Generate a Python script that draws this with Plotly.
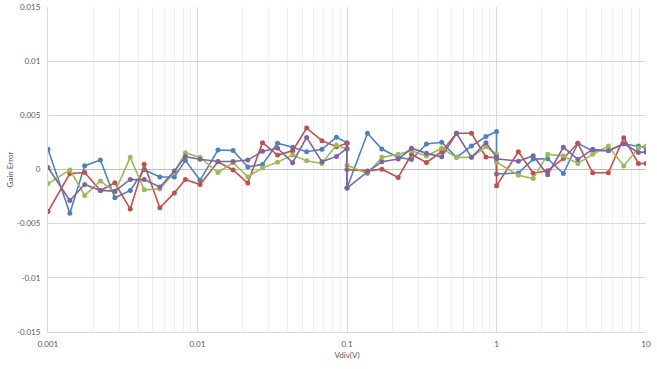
import plotly.graph_objects as go

# x values (V/div); 0.1 and 1 appear twice (range switch)
vdiv = [0.001, 0.0014, 0.00176, 0.00224, 0.0028, 0.00355, 0.0044, 0.0056, 0.007, 0.0083,
        0.0104, 0.0137, 0.0173, 0.0217, 0.0272, 0.0343, 0.0433, 0.0537, 0.068, 0.085, 0.1,
        0.1, 0.137, 0.171, 0.22, 0.27, 0.34, 0.43, 0.54, 0.68, 0.85, 1,
        1, 1.4, 1.76, 2.2, 2.8, 3.5, 4.4, 5.6, 7.1, 8.9, 10]

# values in units of 1e-3
blue = [1.86, -4.04, 0.34, 0.87, -2.61, -1.93, -0.02, -0.69, -0.69, 0.84,
        -1.0, 1.80, 1.75, 0.24, 0.47, 2.42, 2.05, 1.64, 1.86, 2.98, 2.48,
        -1.71, 3.35, 1.89, 1.12, 0.93, 2.36, 2.51, 1.12, 2.17, 3.05, 3.50,
        -0.41, -0.32, 0.96, 0.99, -0.37, 2.42, 1.72, 1.75, 2.38, 2.17, 2.0]
red = [-3.88, -0.37, -0.28, -1.93, -1.23, -3.65, 0.49, -3.54, -2.16, -0.92,
       -1.39, 0.71, -0.04, -1.25, 2.48, 1.33, 1.73, 3.82, 2.66, 2.10, 2.42,
       0.0, -0.13, 0.03, -0.74, 1.40, 0.65, 1.64, 3.35, 3.35, 1.15, 1.10,
       -1.51, 1.64, -0.34, -0.11, 1.02, 2.42, -0.30, -0.30, 2.94, 0.56, 0.56]
green = [-1.30, -0.04, -2.39, -1.06, -2.07, 1.12, -1.88, -1.79, -0.25, 1.55,
         1.12, -0.28, 0.63, -0.67, 0.15, 0.68, 1.33, 0.80, 0.56, 2.26, 1.86,
         0.40, -0.37, 1.12, 1.40, 1.73, 1.24, 1.96, 1.12, 1.12, 2.10, 1.42,
         0.68, -0.53, -0.84, 1.40, 1.24, 0.56, 1.40, 2.17, 0.33, 1.98, 2.17]
purple = [0.19, -2.86, -1.39, -1.93, -2.0, -0.92, -0.93, -1.62, -0.13, 1.19,
          0.94, 0.74, 0.74, 0.87, 1.68, 1.96, 0.63, 2.96, 0.71, 1.21, 1.94,
          -1.71, -0.22, 0.71, 0.96, 1.96, 1.49, 1.17, 3.35, 1.12, 2.48, 1.12,
          1.0, 0.77, 1.27, -0.48, 2.05, 0.94, 1.87, 1.72, 2.38, 1.58, 1.61]

series = [("Series1", blue, "#4F81BD"), ("Series2", red, "#C0504D"),
          ("Series3", green, "#9BBB59"), ("Series4", purple, "#8064A2")]

y_ticks = [-0.015, -0.01, -0.005, 0, 0.005, 0.01, 0.015]
y_labels = ["-0.015", "-0.01", "-0.005", "0", "0.005", "0.01", "0.015"]
x_ticks = [0.001, 0.01, 0.1, 1, 10]
x_labels = ["0.001", "0.01", "0.1", "1", "10"]
minor_x = [m * d for d in [0.001, 0.01, 0.1, 1] for m in range(2, 10)]

fig = go.Figure()
for name, vals, col in series:
    fig.add_trace(go.Scatter(
        x=vdiv, y=[v / 1000 for v in vals], mode="lines+markers", name=name,
        line=dict(color=col, width=1.6),
        marker=dict(color=col, size=5),
    ))

font = "Lato, 'Open Sans', sans-serif"
fig.update_layout(
    width=657, height=369,
    margin=dict(l=48, r=11, t=7, b=37, autoexpand=False),
    paper_bgcolor="white", plot_bgcolor="white",
    showlegend=False,
    font=dict(family=font, size=8, color="#595959"),
    xaxis=dict(
        type="log", range=[-3, 1], automargin=False,
        tickvals=x_ticks, ticktext=x_labels,
        showgrid=True, gridcolor="#D9D9D9", gridwidth=1,
        minor=dict(tickvals=minor_x, showgrid=True, gridcolor="#EEEEEE", gridwidth=1),
        showline=True, linecolor="#D9D9D9", mirror=False,
        ticks="", ticklabelstandoff=4,
        title=dict(text="Vdiv(V)", font=dict(size=8, color="#595959"), standoff=4),
        zeroline=False,
    ),
    yaxis=dict(
        range=[-0.015, 0.015], automargin=False,
        tickvals=y_ticks, ticktext=y_labels,
        showgrid=True, gridcolor="#D9D9D9", gridwidth=1,
        zeroline=True, zerolinecolor="#BFBFBF", zerolinewidth=1,
        showline=True, linecolor="#D9D9D9",
        ticks="", ticklabelstandoff=5,
        title=dict(text="Gain Error", font=dict(size=8, color="#595959"), standoff=2),
    ),
)

fig.write_html("out.html", config={"displayModeBar": False},
               post_script="document.body.style.margin='0px';")
